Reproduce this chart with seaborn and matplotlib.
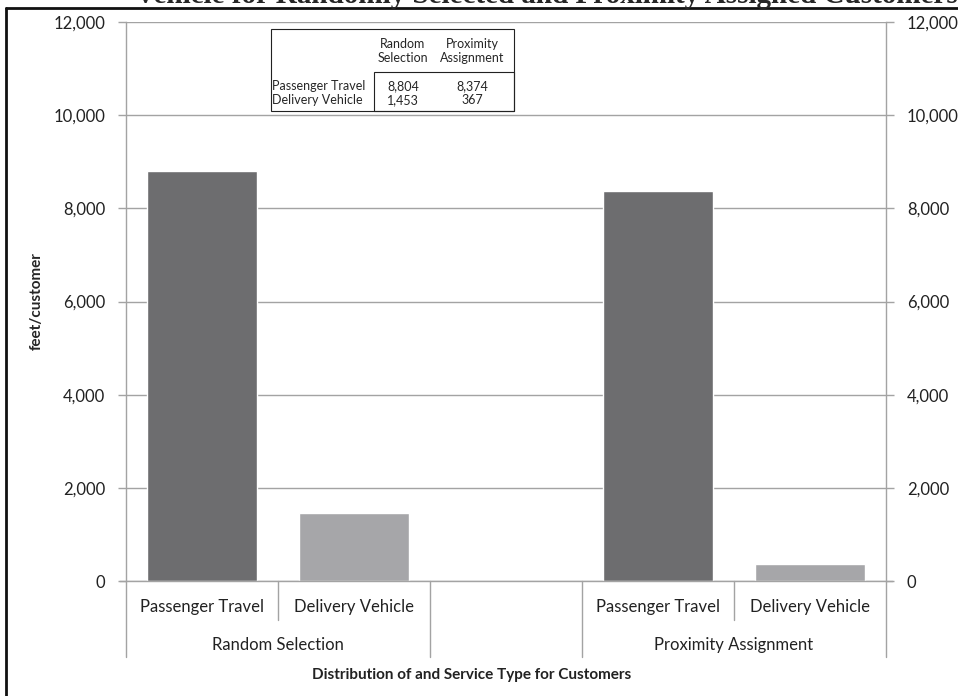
import pandas as pd
import numpy as np
import matplotlib.pyplot as plt
import seaborn as sns
from matplotlib.lines import Line2D
from matplotlib.patches import Rectangle
import matplotlib.ticker as mticker

# data
groups = ["Random Selection", "Proximity Assignment"]
services = ["Passenger Travel", "Delivery Vehicle"]
passenger = [8804, 8374]
delivery = [1453, 367]
yticks = [0, 2000, 4000, 6000, 8000, 10000, 12000]

# slot positions: two groups of two bars with an empty slot between
slot = {"Random Selection": [0, 1], "Proximity Assignment": [3, 4]}
rows = []
for i, g in enumerate(groups):
    rows.append((slot[g][0], g, services[0], passenger[i]))
    rows.append((slot[g][1], g, services[1], delivery[i]))
df = pd.DataFrame(rows, columns=["pos", "group", "service", "value"])

sns.set_style("white")
plt.rcParams["font.family"] = ["Lato", "DejaVu Sans"]

fig = plt.figure(figsize=(9.58, 6.96), dpi=100)
ax = fig.add_axes([0.1315, 0.1652, 0.7934, 0.8032])

sns.barplot(data=df, x="pos", y="value", hue="service", native_scale=True, dodge=False,
            width=0.72, palette=["#6d6d6f", "#a6a6a9"], legend=False, ax=ax, saturation=1)

ax.set_xlim(-0.5, 4.5)
ax.set_ylim(0, 12000)
ax.set_yticks(yticks)
ax.yaxis.set_major_formatter(mticker.FuncFormatter(lambda v, p: f"{int(v):,}"))
ax.grid(axis="y", color="#a3a3a3", lw=1)
ax.set_axisbelow(True)
ax.set_xticks([])
ax.set_xlabel("")
ax.set_ylabel("feet/customer", fontsize=11, fontweight="bold", labelpad=7)
ax.tick_params(axis="y", left=True, right=True, labelleft=True, labelright=True,
               length=6, width=1, color="#a3a3a3", labelsize=12, pad=9, labelcolor="#222222")
ax.spines["top"].set_visible(False)
for s in ["left", "right", "bottom"]:
    ax.spines[s].set_color("#a3a3a3")
    ax.spines[s].set_linewidth(1)
ax.spines["bottom"].set_bounds(-0.5 - 0.04, 4.5 + 0.04)

# multi-level category axis
tr = ax.get_xaxis_transform()
short_y, long_y = -0.07, -0.136
for x, y0 in [(-0.5, long_y), (0.5, short_y), (1.5, long_y), (2.5, long_y), (3.5, short_y), (4.5, long_y)]:
    ax.plot([x, x], [0, y0], transform=tr, color="#a3a3a3", lw=1, clip_on=False)
for g in groups:
    for p, s in zip(slot[g], services):
        ax.text(p, -0.046, s, transform=tr, ha="center", va="center", fontsize=12, color="#222222")
    ax.text(np.mean(slot[g]), -0.1145, g, transform=tr, ha="center", va="center", fontsize=12, color="#222222")
ax.text(1.776, -0.168, "Distribution of and Service Type for Customers", transform=tr,
        ha="center", va="center", fontsize=11, fontweight="bold", color="#222222")

# data table inset
ta = ax.transAxes
ax.add_patch(Rectangle((0.1908, 0.8408), 0.3197, 0.1467, transform=ta, fill=False, ec="#222222", lw=0.8, clip_on=False, zorder=5))
ax.add_patch(Rectangle((0.3263, 0.8408), 0.1842, 0.0698, transform=ta, fill=False, ec="#222222", lw=0.8, clip_on=False, zorder=5))
cols_x = [0.3645, 0.4553]
heads = [("Random", "Selection"), ("Proximity", "Assignment")]
fs = 9
for cx, (h1, h2) in zip(cols_x, heads):
    ax.text(cx, 0.9605, h1, transform=ta, ha="center", va="center", fontsize=fs, zorder=6)
    ax.text(cx, 0.9355, h2, transform=ta, ha="center", va="center", fontsize=fs, zorder=6)
for ry, s, vals in [(0.8855, services[0], passenger), (0.8605, services[1], delivery)]:
    ax.text(0.1925, ry, s, transform=ta, ha="left", va="center", fontsize=fs, zorder=6)
    for cx, v in zip(cols_x, vals):
        ax.text(cx, ry, f"{v:,}", transform=ta, ha="center", va="center", fontsize=fs, zorder=6)

# frame around figure and cut-off caption at top
fig.add_artist(Line2D([6 / 958, 6 / 958], [0, 1 - 8 / 696], color="#111111", lw=2))
fig.add_artist(Line2D([6 / 958, 1], [1 - 8 / 696, 1 - 8 / 696], color="#111111", lw=2))
fig.text(135 / 958, 1 - 3 / 696, "Vehicle for Randomly Selected and Proximity Assigned Customers",
         family=["Liberation Serif", "DejaVu Serif"], fontweight="bold", fontsize=21, ha="left", va="baseline")

fig.savefig("out.png", dpi=100)
